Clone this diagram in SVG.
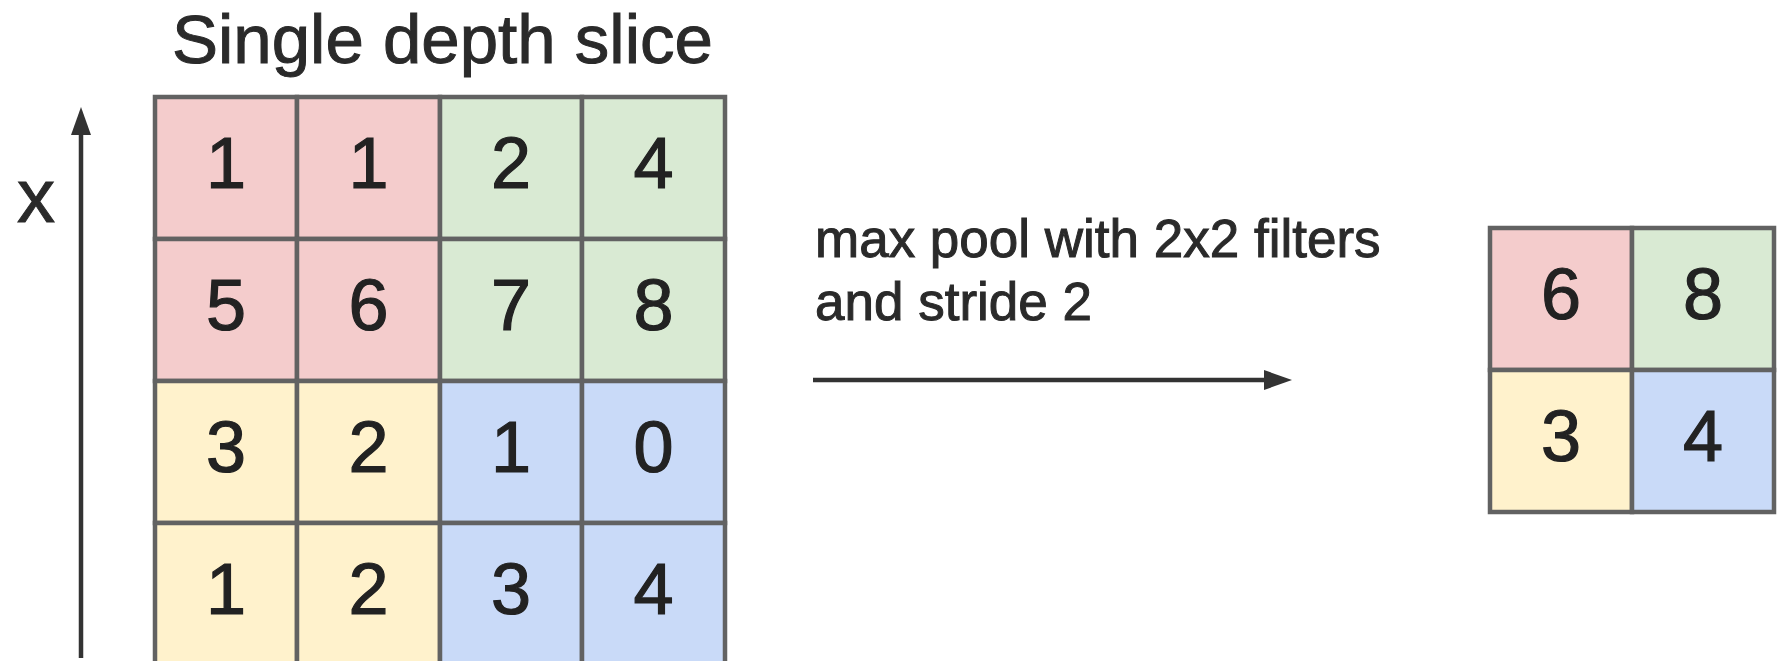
<svg xmlns="http://www.w3.org/2000/svg" width="1788" height="661" viewBox="0 0 1788 661">
<style>
.cell{stroke:#626262;stroke-width:4.5}
.r{fill:#f4cccc}.g{fill:#d9ead3}.y{fill:#fff2cc}.b{fill:#c9daf8}
.num{font-family:"Liberation Sans",Arial,sans-serif;font-size:72px;fill:#222;stroke:#222;stroke-width:1.2;text-anchor:middle}
.lbl{font-family:"Liberation Sans",Arial,sans-serif;fill:#2a2a2a;stroke:#2a2a2a;stroke-width:1}
.conn{stroke:#333;stroke-width:4.5;fill:none}
</style>
<defs>
<marker id="ah" markerUnits="userSpaceOnUse" markerWidth="28" markerHeight="20" refX="1" refY="10" orient="auto" viewBox="0 0 28 20">
<path d="M0,0 L28,10 L0,20 z" fill="#333"/>
</marker>
</defs>
<rect width="1788" height="661" fill="#fff"/>
<g id="title"><text class="lbl" x="172" y="63" font-size="69">Single depth slice</text></g>
<g id="axis-label"><text class="lbl" x="36" y="222" font-size="76" text-anchor="middle">x</text></g>
<g id="op-label"><text class="lbl" x="815" y="257" font-size="53">max pool with 2x2 filters</text><text class="lbl" x="815" y="320" font-size="53">and stride 2</text></g>
<g id="connectors">
<line class="conn" x1="81" y1="658" x2="81" y2="134" marker-end="url(#ah)"/>
<line class="conn" x1="813" y1="380" x2="1265" y2="380" marker-end="url(#ah)"/>
</g>
<g id="input">
<g id="c00"><rect class="cell r" x="155" y="97" width="142" height="142"/><text class="num" x="226" y="188">1</text></g>
<g id="c01"><rect class="cell r" x="297" y="97" width="143" height="142"/><text class="num" x="368.5" y="188">1</text></g>
<g id="c02"><rect class="cell g" x="440" y="97" width="142" height="142"/><text class="num" x="511" y="188">2</text></g>
<g id="c03"><rect class="cell g" x="582" y="97" width="143" height="142"/><text class="num" x="653.5" y="188">4</text></g>
<g id="c10"><rect class="cell r" x="155" y="239" width="142" height="142"/><text class="num" x="226" y="330">5</text></g>
<g id="c11"><rect class="cell r" x="297" y="239" width="143" height="142"/><text class="num" x="368.5" y="330">6</text></g>
<g id="c12"><rect class="cell g" x="440" y="239" width="142" height="142"/><text class="num" x="511" y="330">7</text></g>
<g id="c13"><rect class="cell g" x="582" y="239" width="143" height="142"/><text class="num" x="653.5" y="330">8</text></g>
<g id="c20"><rect class="cell y" x="155" y="381" width="142" height="142"/><text class="num" x="226" y="472">3</text></g>
<g id="c21"><rect class="cell y" x="297" y="381" width="143" height="142"/><text class="num" x="368.5" y="472">2</text></g>
<g id="c22"><rect class="cell b" x="440" y="381" width="142" height="142"/><text class="num" x="511" y="472">1</text></g>
<g id="c23"><rect class="cell b" x="582" y="381" width="143" height="142"/><text class="num" x="653.5" y="472">0</text></g>
<g id="c30"><rect class="cell y" x="155" y="523" width="142" height="142"/><text class="num" x="226" y="614">1</text></g>
<g id="c31"><rect class="cell y" x="297" y="523" width="143" height="142"/><text class="num" x="368.5" y="614">2</text></g>
<g id="c32"><rect class="cell b" x="440" y="523" width="142" height="142"/><text class="num" x="511" y="614">3</text></g>
<g id="c33"><rect class="cell b" x="582" y="523" width="143" height="142"/><text class="num" x="653.5" y="614">4</text></g>
</g>
<g id="output">
<g id="o00"><rect class="cell r" x="1490" y="228" width="142" height="142"/><text class="num" x="1561" y="319">6</text></g>
<g id="o01"><rect class="cell g" x="1632" y="228" width="142" height="142"/><text class="num" x="1703" y="319">8</text></g>
<g id="o10"><rect class="cell y" x="1490" y="370" width="142" height="142"/><text class="num" x="1561" y="461">3</text></g>
<g id="o11"><rect class="cell b" x="1632" y="370" width="142" height="142"/><text class="num" x="1703" y="461">4</text></g>
</g>
</svg>
